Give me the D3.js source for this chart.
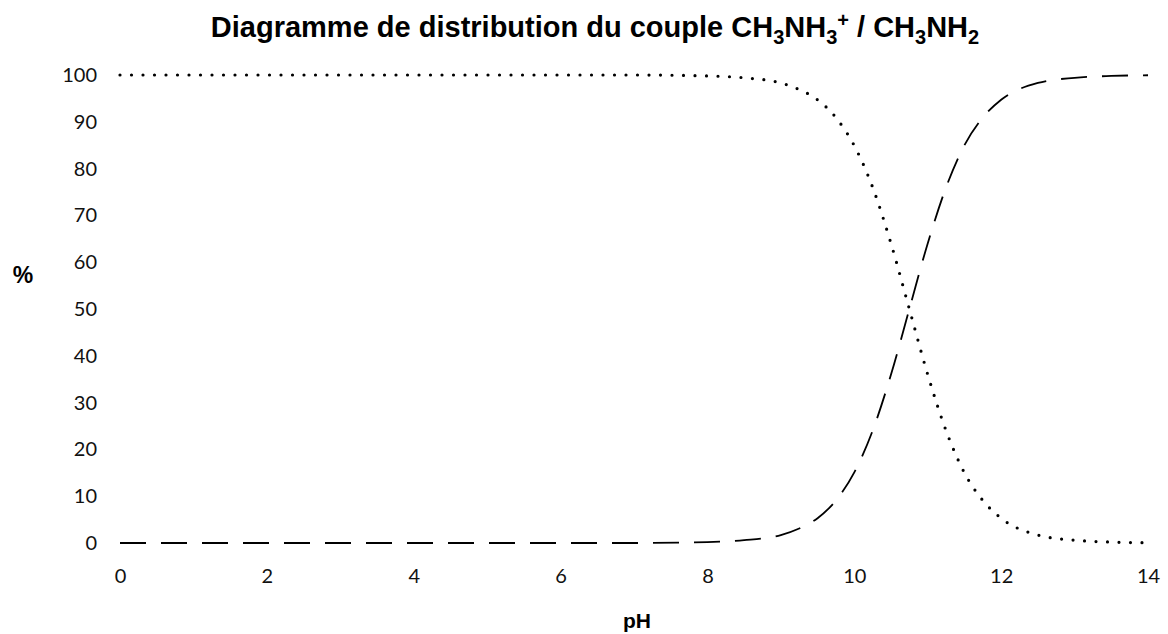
<!DOCTYPE html>
<html>
<head>
<meta charset="utf-8">
<script src="https://cdn.jsdelivr.net/npm/d3@7"></script>
<style>
  body { margin: 0; background: #fff; }
  svg { display: block; }
</style>
</head>
<body>
<svg id="chart"></svg>
<script>
const phValues = [0, 1, 2, 3, 4, 5, 6, 7, 8, 8.5, 9, 9.25, 9.5, 9.75, 10, 10.25, 10.5, 10.75, 11, 11.25, 11.5, 11.75, 12, 12.5, 13, 13.5, 14]
// % CH3NH3+ (dotted)
const acidPercent = [100, 100, 100, 100, 100, 100, 100, 100, 99.8, 99.4, 98.3, 96.9, 94.7, 90.9, 84.9, 76, 64, 50, 36, 24, 15, 9.1, 5.3, 1.7, 0.6, 0.2, 0.05]
// % CH3NH2 (dashed)
const basePercent = [0, 0, 0, 0, 0, 0, 0, 0, 0.2, 0.6, 1.7, 3.1, 5.3, 9.1, 15.1, 24, 36, 50, 64, 76, 85, 90.9, 94.7, 98.3, 99.4, 99.8, 99.95]

const xTicks = [0, 2, 4, 6, 8, 10, 12, 14]
const yTicks = [0, 10, 20, 30, 40, 50, 60, 70, 80, 90, 100]

//set up svg container
const width = 1168
const height = 634
const margin = {top: 75, right: 20, bottom: 91, left: 120}
const innerW = 1148 - margin.left
const innerH = height - margin.top - margin.bottom

const svg = d3.select('#chart')
              .attr('width', width)
              .attr('height', height)

//setting the scale
const xScale = d3.scaleLinear()
                 .domain([0, 14])
                 .range([margin.left, margin.left + innerW])

const yScale = d3.scaleLinear()
                 .domain([0, 100])
                 .range([margin.top + innerH, margin.top])

//setting the axes
const xAxis = d3.axisBottom(xScale)
                .tickValues(xTicks)
                .tickSize(0)
                .tickPadding(26)

const yAxis = d3.axisLeft(yScale)
                .tickValues(yTicks)
                .tickSize(0)
                .tickPadding(23)

const gx = svg.append('g')
              .attr('transform', `translate(0, ${margin.top + innerH})`)
              .call(xAxis)
gx.select('.domain').remove()

const gy = svg.append('g')
              .attr('transform', `translate(${margin.left}, 0)`)
              .call(yAxis)
gy.select('.domain').remove()

svg.selectAll('.tick text')
   .attr('font-family', 'Lato, "Open Sans", sans-serif')
   .attr('font-size', 20)
   .attr('fill', '#111')

//curves
const line = d3.line()
               .x((d, i) => xScale(phValues[i]))
               .y(d => yScale(d))
               .curve(d3.curveMonotoneX)

svg.append('path')
   .attr('d', line(acidPercent))
   .attr('fill', 'none')
   .attr('stroke', '#000')
   .attr('stroke-width', 3.2)
   .attr('stroke-linecap', 'round')
   .attr('stroke-dasharray', '0,11.5')

svg.append('path')
   .attr('d', line(basePercent))
   .attr('fill', 'none')
   .attr('stroke', '#000')
   .attr('stroke-width', 1.8)
   .attr('stroke-dasharray', '26,15')

//title with sub/superscripts
const title = svg.append('text')
                 .attr('x', 595)
                 .attr('y', 37)
                 .attr('text-anchor', 'middle')
                 .attr('font-family', '"Liberation Sans", Arial, sans-serif')
                 .attr('font-weight', 'bold')
                 .attr('font-size', 29)
                 .attr('fill', '#000')

const titleParts = [
  ['Diagramme de distribution du couple CH', 0],
  ['3', -1], ['NH', 0], ['3', -1], ['+', 1], [' / CH', 0], ['3', -1], ['NH', 0], ['2', -1]
]
const off = v => v === -1 ? 7 : v === 1 ? -10 : 0
titleParts.forEach(([t, s], i) => {
  const prev = i > 0 ? titleParts[i - 1][1] : 0
  title.append('tspan')
       .text(t)
       .attr('dy', off(s) - off(prev))
       .attr('font-size', s === 0 ? 29 : 20)
})

//axis titles
svg.append('text')
   .attr('x', 23)
   .attr('y', 283)
   .attr('text-anchor', 'middle')
   .attr('font-family', '"Liberation Sans", Arial, sans-serif')
   .attr('font-weight', 'bold')
   .attr('font-size', 23)
   .text('%')

svg.append('text')
   .attr('x', 637)
   .attr('y', 628)
   .attr('text-anchor', 'middle')
   .attr('font-family', '"Liberation Sans", Arial, sans-serif')
   .attr('font-weight', 'bold')
   .attr('font-size', 21)
   .text('pH')
</script>
</body>
</html>
